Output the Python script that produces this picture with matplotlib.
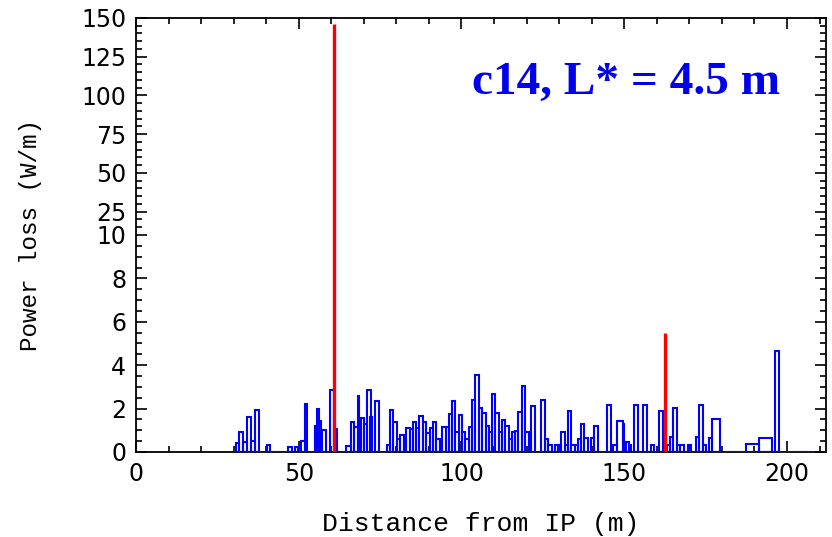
import numpy as np
import matplotlib
matplotlib.use('Agg')
import matplotlib.pyplot as plt
from matplotlib.ticker import FixedLocator

# element start (m), element length (m), power loss (W/m)
seg_start = [30.7, 31.7, 32.9, 34.0, 35.4, 36.5, 40.1, 46.7, 48.8, 50.8,
             51.8, 54.9, 55.6, 56.1, 57.2, 59.6, 61.0, 64.6, 66.1, 66.9,
             68.2, 68.6, 69.2, 70.0, 71.0, 72.0, 73.3, 77.0, 78.0, 79.1,
             80.2, 81.0, 82.2, 83.0, 84.1, 85.1, 86.1, 87.0, 88.1, 89.1,
             90.2, 91.2, 92.3, 93.3, 94.1, 95.1, 96.1, 97.1, 98.1, 99.2,
             100.2, 101.0, 102.2, 103.2, 104.2, 105.4, 106.4, 107.5, 108.3, 109.3,
             110.4, 111.6, 112.4, 113.5, 114.5, 115.4, 116.5, 117.4, 118.5, 119.6,
             120.7, 121.5, 124.4, 125.6, 126.7, 128.7, 129.8, 130.7, 131.7, 132.7,
             133.7, 134.8, 135.8, 136.6, 137.7, 139.8, 140.8, 144.7, 146.7, 147.7,
             149.5, 150.5, 151.5, 152.9, 155.8, 158.1, 160.6, 163.1, 164.1, 165.1,
             166.1, 167.2, 169.5, 172.0, 173.0, 174.2, 176.0, 177.1, 187.3, 191.4,
             196.4]
seg_len = [1.0, 1.2, 1.1, 1.4, 1.1, 1.2, 1.1, 1.2, 1.0, 1.0,
           0.6, 0.6, 0.5, 0.6, 1.3, 1.1, 0.8, 1.3, 0.8, 1.2,
           0.4, 0.6, 0.8, 0.9, 1.2, 0.6, 1.3, 1.0, 1.1, 1.1,
           0.8, 1.2, 0.8, 1.1, 1.0, 1.0, 0.9, 1.1, 1.0, 1.1,
           1.0, 1.1, 1.0, 0.8, 1.0, 1.0, 1.0, 1.0, 1.1, 1.0,
           0.8, 1.2, 1.0, 1.0, 1.2, 1.0, 1.1, 0.8, 1.0, 1.1,
           1.2, 0.8, 1.1, 1.0, 0.9, 1.1, 0.9, 1.1, 1.1, 1.1,
           0.8, 1.1, 1.2, 1.1, 1.0, 1.1, 0.9, 1.0, 1.0, 1.0,
           1.1, 1.0, 0.8, 1.1, 1.2, 1.0, 1.0, 1.2, 1.0, 1.8,
           0.5, 1.0, 0.5, 1.2, 1.3, 1.1, 1.4, 1.0, 1.0, 1.0,
           1.1, 1.2, 1.0, 1.0, 1.2, 1.0, 0.9, 2.3, 4.1, 4.1,
           1.1]
seg_power = [0.40, 0.90, 0.45, 1.60, 0.50, 1.95, 0.30, 0.25, 0.25, 0.50,
             2.20, 1.20, 2.00, 1.45, 1.00, 2.85, 1.05, 0.28, 1.40, 1.16,
             2.60, 1.20, 1.57, 1.30, 2.84, 1.60, 2.37, 0.30, 1.94, 1.36,
             0.60, 0.79, 0.60, 1.10, 1.08, 1.39, 1.10, 1.68, 1.40, 0.87,
             1.10, 1.40, 0.60, 0.62, 1.17, 1.17, 1.74, 2.33, 0.90, 1.70,
             0.90, 0.60, 1.17, 2.40, 3.55, 2.05, 1.79, 1.20, 0.90, 2.67,
             1.79, 0.93, 1.48, 1.20, 0.58, 0.90, 0.97, 1.82, 3.04, 0.93,
             0.93, 2.10, 2.38, 0.62, 0.34, 0.32, 0.32, 0.93, 0.32, 1.87,
             0.32, 0.32, 0.62, 1.27, 0.65, 0.65, 1.22, 2.18, 0.34, 1.45,
             1.27, 0.48, 0.30, 2.18, 2.18, 0.34, 1.91, 0.30, 0.68, 2.02,
             0.34, 0.34, 0.34, 0.68, 2.15, 0.32, 0.66, 1.50, 0.39, 0.66,
             4.64]

# point losses (red)
spike_x = [60.9, 162.6]
spike_power = [146.0, 5.5]

baseline_range = [30.0, 208.0]

ytick_vals = [0, 2, 4, 6, 8, 10, 25, 50, 75, 100, 125, 150]


# broken y scale: 0-10 linear, 10-150 squeezed into the same height
def fwd(y):
    y = np.asarray(y, dtype=float)
    return np.where(y <= 10, y, 10 + (y - 10) / 14.0)


def inv(z):
    z = np.asarray(z, dtype=float)
    return np.where(z <= 10, z, 10 + (z - 10) * 14.0)


fig = plt.figure(figsize=(8.32, 5.37), dpi=100, facecolor='white')
ax = fig.add_axes([0.1635, 0.1583, 0.8293, 0.8082])
ax.set_yscale('function', functions=(fwd, inv))

ax.hlines(0, baseline_range[0], baseline_range[1], color='blue', lw=1.5, zorder=3)
ax.bar(seg_start, seg_power, width=seg_len, align='edge',
       facecolor='none', edgecolor='blue', linewidth=1.5, zorder=3)
ax.vlines(spike_x, 0, spike_power, color='red', lw=2.4, zorder=4)

ax.set_xlim(0, 212)
ax.set_ylim(0, 150)

ax.xaxis.set_major_locator(FixedLocator([0, 50, 100, 150, 200]))
ax.xaxis.set_minor_locator(FixedLocator(np.arange(0, 211, 10)))
ax.yaxis.set_major_locator(FixedLocator(ytick_vals))
yminor = list(np.arange(0, 10, 0.5)) + list(np.arange(10, 151, 5))
ax.yaxis.set_minor_locator(FixedLocator(yminor))
ax.set_yticklabels([str(v) for v in ytick_vals])

ax.tick_params(which='both', direction='in', top=True, right=True,
               labelsize=17, width=1.2)
ax.tick_params(which='major', length=8, pad=7)
ax.tick_params(which='minor', length=4)
for s in ax.spines.values():
    s.set_linewidth(1.3)

ax.set_xlabel('Distance from IP (m)', family='Liberation Mono', fontsize=19, labelpad=19)
ax.set_ylabel('Power loss (W/m)', family='Liberation Mono', fontsize=17.5, labelpad=28)

ax.text(0.710, 0.826, 'c14, L* = 4.5 m', transform=ax.transAxes,
        ha='center', va='baseline', color='#0000ee',
        family='Liberation Serif', fontweight='bold', fontsize=34)

fig.savefig('out.png', dpi=100)
